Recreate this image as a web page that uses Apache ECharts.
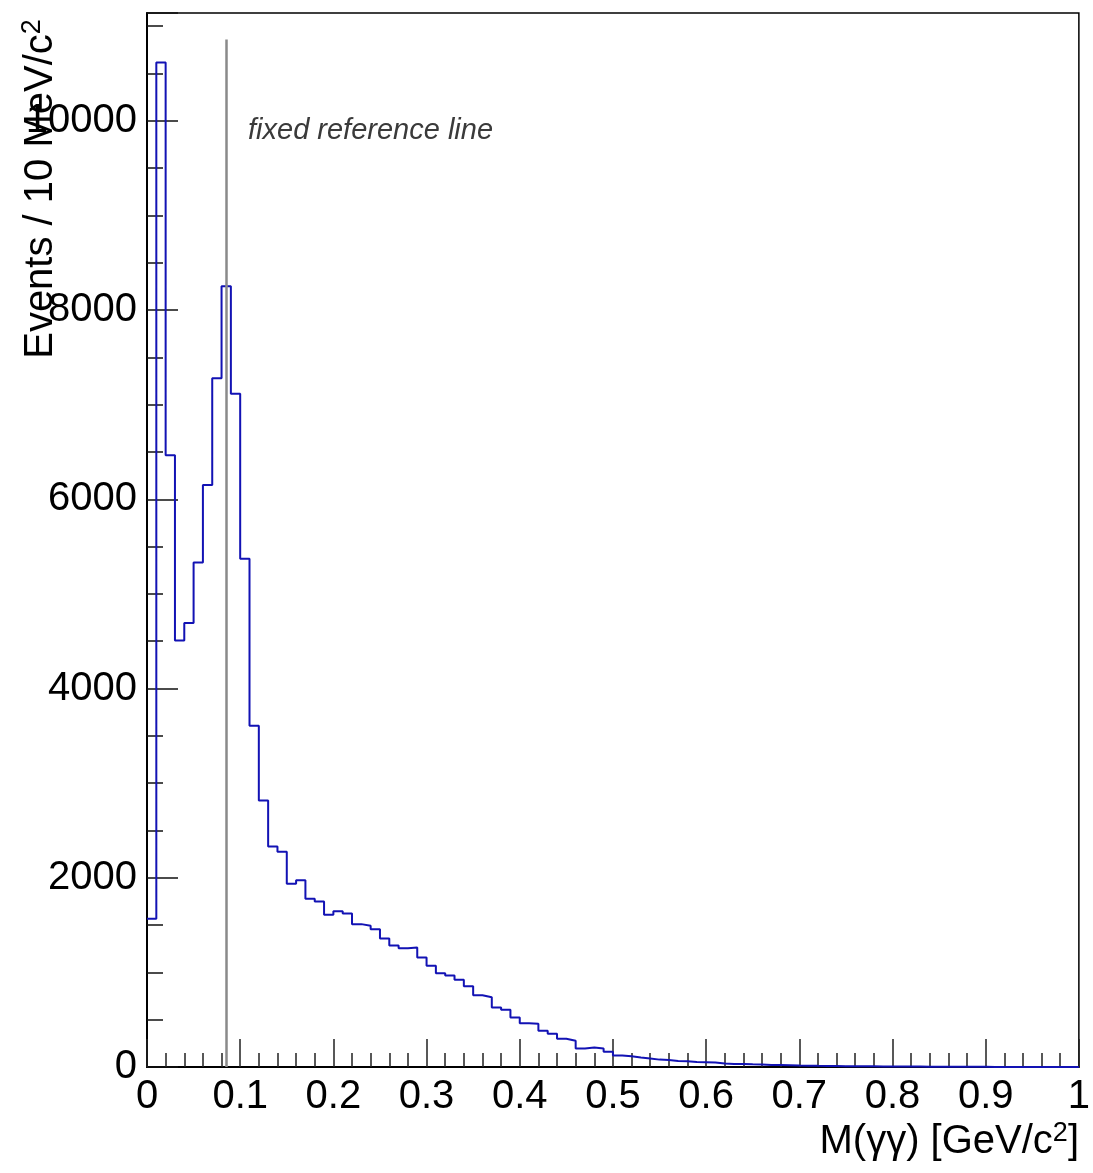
<!DOCTYPE html>
<html>
<head>
<meta charset="utf-8">
<script src="https://cdn.jsdelivr.net/npm/echarts@6/dist/echarts.min.js"></script>
<style>
html,body{margin:0;padding:0;background:#fff;}
#chart{width:1093px;height:1173px;}
</style>
</head>
<body>
<div id="chart"></div>
<script>
// ---- data ----
const binWidth = 0.01;
const counts = [
  1566, 10616, 6465, 4508, 4693, 5333, 6151, 7279, 8253, 7117,
  5372, 3607, 2818, 2331, 2275, 1936, 1975, 1778, 1749, 1608,
  1647, 1622, 1510, 1492, 1457, 1358, 1284, 1256, 1263, 1157,
  1069, 991, 966, 921, 854, 758, 737, 628, 606, 522,
  462, 458, 384, 352, 299, 278, 196, 206, 196, 162,
  122, 114, 100, 89, 78, 74, 63, 61, 53, 51,
  47, 36, 32, 31, 28, 26, 21, 20, 18, 15,
  14, 12, 11, 10, 9, 8, 7, 7, 6, 5,
  5, 4, 4, 3, 3, 3, 2, 2, 2, 2,
  1, 1, 1, 1, 1, 1, 0, 1, 0, 0
];
const yTickValues = [0, 2000, 4000, 6000, 8000, 10000];
const xTickLabels = ['0', '0.1', '0.2', '0.3', '0.4', '0.5', '0.6', '0.7', '0.8', '0.9', '1'];
const refLineX = 0.085;
const refLineTop = 10860;
const yMax = 11140;
const refLabel = 'fixed reference line';

// ---- build step outline ----
const stepData = counts.map((v, i) => [i * binWidth, v]);
stepData.push([counts.length * binWidth, counts[counts.length - 1]]);

const FONT = '"Liberation Sans", Arial, Helvetica, sans-serif';
const chart = echarts.init(document.getElementById('chart'), null, {renderer: 'canvas'});

const xLabelFmt = v => {
  const idx = Math.round(v * 10);
  return Math.abs(v * 10 - idx) < 1e-6 ? xTickLabels[idx] : '';
};
const yLabelFmt = v => (yTickValues.indexOf(v) >= 0 ? String(v) : '');

chart.setOption({
  animation: false,
  backgroundColor: '#fff',
  grid: {
    left: 147, right: 13, top: 13, bottom: 106,
    show: true, borderColor: '#000', borderWidth: 1.5, backgroundColor: 'transparent'
  },
  xAxis: [
    {
      type: 'value', min: 0, max: 1, interval: 0.1,
      axisLine: {show: true, onZero: false, lineStyle: {color: '#000', width: 2}},
      axisTick: {show: true, inside: true, length: 28, lineStyle: {color: '#222', width: 1.5}},
      axisLabel: {formatter: xLabelFmt, color: '#000', fontSize: 40, fontFamily: FONT, margin: 10},
      splitLine: {show: false}
    },
    {
      type: 'value', min: 0, max: 1, interval: 0.02, position: 'bottom',
      axisLine: {show: false},
      axisTick: {show: true, inside: true, length: 14, lineStyle: {color: '#222', width: 1.5}},
      axisLabel: {show: false},
      splitLine: {show: false}
    }
  ],
  yAxis: [
    {
      type: 'value', min: 0, max: yMax, interval: 2000,
      axisLine: {show: true, onZero: false, lineStyle: {color: '#000', width: 2}},
      axisTick: {show: true, inside: true, length: 31, lineStyle: {color: '#111', width: 1.5}},
      axisLabel: {formatter: yLabelFmt, color: '#000', fontSize: 40, fontFamily: FONT, margin: 10},
      splitLine: {show: false}
    },
    {
      type: 'value', min: 0, max: yMax, interval: 500, position: 'left',
      axisLine: {show: false},
      axisTick: {show: true, inside: true, length: 16, lineStyle: {color: '#111', width: 1.5}},
      axisLabel: {show: false},
      splitLine: {show: false}
    }
  ],
  series: [
    {
      type: 'line',
      xAxisIndex: 0, yAxisIndex: 0,
      data: stepData,
      step: 'end',
      symbol: 'none',
      lineStyle: {color: '#1212b4', width: 2},
      z: 3,
      markLine: {
        silent: true,
        symbol: ['none', 'none'],
        label: {show: false},
        lineStyle: {color: '#8a8a8a', width: 2.5, type: 'solid'},
        data: [[{coord: [refLineX, 0]}, {coord: [refLineX, refLineTop]}]]
      }
    }
  ],
  graphic: [
    {
      type: 'text', left: 248, top: 116,
      style: {text: refLabel, fill: '#3a3a3a', font: 'italic 29px ' + FONT}
    },
    {
      type: 'text', x: 41, y: 189, rotation: Math.PI / 2,
      style: {
        text: '{b|Events / 10 MeV/c}{s|2}',
        align: 'center', verticalAlign: 'middle',
        rich: {
          b: {fontSize: 40, fontFamily: FONT, fill: '#000', color: '#000', lineHeight: 44},
          s: {fontSize: 27, fontFamily: FONT, fill: '#000', color: '#000', verticalAlign: 'top', lineHeight: 44}
        }
      }
    },
    {
      type: 'text', right: 14, top: 1120,
      style: {
        text: '{b|M(γγ) [GeV/c}{s|2}{b|]}',
        align: 'right',
        rich: {
          b: {fontSize: 40, fontFamily: FONT, fill: '#000', color: '#000', lineHeight: 44},
          s: {fontSize: 27, fontFamily: FONT, fill: '#000', color: '#000', verticalAlign: 'top', lineHeight: 44}
        }
      }
    }
  ]
});
</script>
</body>
</html>
